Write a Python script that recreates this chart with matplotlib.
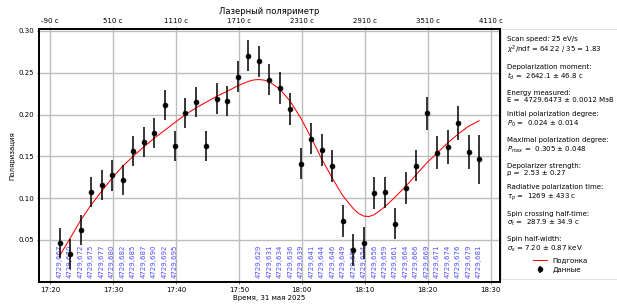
import pandas as pd
import matplotlib
matplotlib.use('Agg')
import matplotlib.pyplot as plt
import matplotlib.dates as mdates

# ── Data ──────────────────────────────────────────────────────────
START = pd.Timestamp('2025-05-31 17:21:30')

t_sec = [0, 100, 200, 300, 400, 500, 600, 700, 800, 900,
         1000, 1100, 1200, 1300, 1400, 1500, 1600, 1700, 1800, 1900,
         2000, 2100, 2200, 2300, 2400, 2500, 2600, 2700, 2800, 2900,
         3000, 3100, 3200, 3300, 3400, 3500, 3600, 3700, 3800, 3900, 4000]

pol = [0.0463, 0.0328, 0.0617, 0.1076, 0.1157, 0.1271, 0.1212, 0.1568, 0.1667, 0.1778,
       0.2115, 0.1626, 0.2024, 0.2148, 0.1623, 0.2192, 0.2160, 0.2455, 0.2705, 0.2638,
       0.2415, 0.2315, 0.2063, 0.1413, 0.1713, 0.1574, 0.1385, 0.0727, 0.0377, 0.0463,
       0.1060, 0.1068, 0.0696, 0.1118, 0.1390, 0.2015, 0.1543, 0.1612, 0.1900, 0.1555, 0.1465]

pol_err = [0.018, 0.018, 0.018, 0.018, 0.018, 0.018, 0.018, 0.018, 0.018, 0.018,
           0.018, 0.018, 0.018, 0.0183, 0.0183, 0.0183, 0.0183, 0.0185, 0.0185, 0.0185,
           0.0185, 0.019, 0.019, 0.019, 0.019, 0.019, 0.019, 0.019, 0.019, 0.019,
           0.019, 0.019, 0.019, 0.019, 0.019, 0.0195, 0.020, 0.020, 0.020, 0.0203, 0.029]

# fit curve
fit_sec = [0, 100, 200, 300, 400, 500, 600, 700, 800, 900,
           1000, 1100, 1200, 1300, 1400, 1500, 1600, 1700, 1800, 1850, 1900, 1950,
           2000, 2100, 2200, 2300, 2400, 2500, 2600, 2700, 2800, 2850, 2900, 2950,
           3000, 3100, 3200, 3300, 3400, 3500, 3600, 3700, 3800, 3900, 4000]
fit_pol = [0.031, 0.052, 0.0734, 0.092, 0.108, 0.124, 0.138, 0.150, 0.161, 0.1715,
           0.181, 0.1906, 0.200, 0.208, 0.215, 0.222, 0.228, 0.2345, 0.2397, 0.2414, 0.2419, 0.2412,
           0.2393, 0.2305, 0.2157, 0.1958, 0.172, 0.1467, 0.124, 0.103, 0.0875, 0.0818, 0.0785, 0.0780,
           0.0801, 0.0895, 0.1013, 0.114, 0.128, 0.142, 0.154, 0.166, 0.1767, 0.186, 0.1926]

# beam energy labels under each point (None = no label)
energy_labels = ['4729,667', '4729,670', '4729,672', '4729,675', '4729,677', '4729,680',
                 '4729,682', '4729,685', '4729,687', '4729,690', '4729,692', '4729,695',
                 None, None, None, None, None, None, None,
                 '4729,629', '4729,631', '4729,634', '4729,636', '4729,639', '4729,641',
                 '4729,644', '4729,646', '4729,649', '4729,651', '4729,654', '4729,656',
                 '4729,659', '4729,661', '4729,664', '4729,666', '4729,669', '4729,671',
                 '4729,674', '4729,676', '4729,679', '4729,681']

fit_info = [
    'Scan speed: 25 eV/s',
    r'$\chi^2$/ndf = 64.22 / 35 = 1.83',
    '',
    'Depolarization moment:',
    r'$t_d$ =  2642.1 ± 46.8 с',
    '',
    'Energy measured:',
    'E =  4729.6473 ± 0.0012 МэВ',
    '',
    'Initial polarization degree:',
    r'$P_0$ =  0.024 ± 0.014',
    '',
    'Maximal polarization degree:',
    r'$P_{max}$ =  0.305 ± 0.048',
    '',
    'Depolarizer strength:',
    'ρ =  2.53 ± 0.27',
    '',
    'Radiative polarization time:',
    r'$\tau_p$ =  1269 ± 433 с',
    '',
    'Spin crossing half-time:',
    r'$\sigma_t$ =  287.9 ± 34.9 с',
    '',
    'Spin half-width:',
    r'$\sigma_\epsilon$ = 7.20 ± 0.87 keV',
]

times = (START + pd.to_timedelta(t_sec, unit='s')).to_numpy()
fit_times = (START + pd.to_timedelta(fit_sec, unit='s')).to_numpy()

# ── Plot ──────────────────────────────────────────────────────────
fig = plt.figure(figsize=(12.34, 6.12), dpi=50)
ax = fig.add_axes([0.0627, 0.0794, 0.7477, 0.8248])

line_fit, = ax.plot(fit_times, fit_pol, color='red', lw=1.5, label='Подгонка', zorder=3)
eb = ax.errorbar(times, pol, yerr=pol_err, fmt='o', color='black', ms=7,
                 elinewidth=2.2, capsize=0, label='Данные', zorder=4)

for t, lab in zip(times, energy_labels):
    if lab is None:
        continue
    ax.text(t, 0.005, lab, rotation=90, ha='center', va='bottom',
            color='blue', alpha=0.7, fontsize=10, zorder=2)

ax.set_ylim(0.0, 0.302)
ax.set_yticks([0.05, 0.10, 0.15, 0.20, 0.25, 0.30])
ax.xaxis.set_major_locator(mdates.MinuteLocator(byminute=range(0, 60, 10)))
ax.xaxis.set_major_formatter(mdates.DateFormatter('%H:%M'))
ax.grid(True, color='#bdbdbd', lw=2)
ax.set_xlabel('Время, 31 мая 2025')
ax.set_ylabel('Поляризация')

# top axis: seconds from start of the scan
ax2 = ax.twiny()
ax2.set_xlim(ax.get_xlim())
ticks = ax.get_xticks()
t0 = mdates.date2num(START)
ax2.set_xticks(ticks)
ax2.set_xticklabels([f'{round((tk - t0) * 86400):.0f} с' for tk in ticks])
ax2.set_title('Лазерный поляриметр', fontsize=12)

for a in (ax, ax2):
    for sp in a.spines.values():
        sp.set_linewidth(2.5)

leg = ax.legend([line_fit, eb], ['Подгонка', 'Данные'], title='\n'.join(fit_info),
                loc='upper left', bbox_to_anchor=(1.002, 1.0), borderaxespad=0,
                borderpad=0.9)
leg.get_title().set_multialignment('left')

fig.savefig('out.png', dpi=50)
